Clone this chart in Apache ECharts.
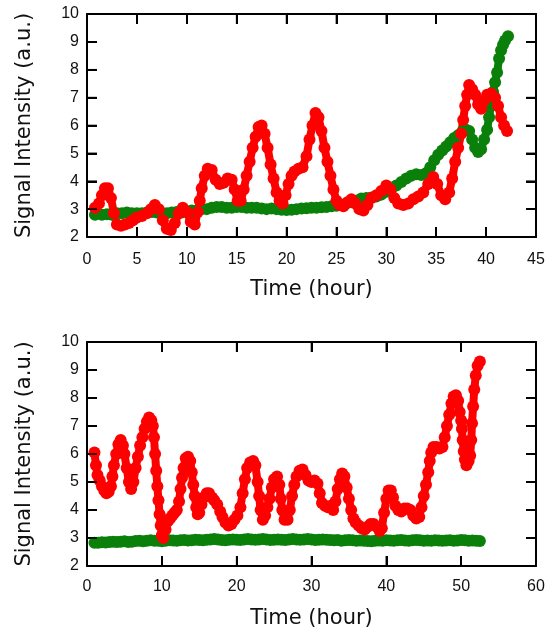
<!DOCTYPE html>
<html>
<head>
<meta charset="utf-8">
<script src="https://cdn.jsdelivr.net/npm/echarts@6/dist/echarts.min.js"></script>
<style>html,body{margin:0;padding:0;background:#fff;}#c{width:550px;height:632px;}</style>
</head>
<body>
<div id="c"></div>
<script>
// ---- Axis ticks ----
var topXTicks = [0, 45, 5];   // min, max, interval
var bottomXTicks = [0, 60, 10];
var yTicks = [2, 10, 1];

// ---- Top panel ----
var topRed = [
[0.8,3.05],[1.2,3.2],[1.5,3.5],[1.8,3.75],[2.1,3.75],[2.4,3.4],[2.7,2.85],[3.0,2.45],[3.4,2.4],[3.8,2.45],
[4.2,2.5],[4.6,2.6],[5.0,2.7],[5.5,2.75],[6.0,2.85],[6.4,3.0],[6.8,3.15],[7.2,3.0],[7.6,2.6],[8.0,2.3],
[8.4,2.25],[8.8,2.5],[9.2,2.85],[9.6,3.05],[10.0,2.9],[10.4,2.55],[10.8,2.45],[11.1,2.9],[11.3,3.3],[11.5,3.75],
[11.8,4.2],[12.1,4.45],[12.5,4.4],[12.9,4.05],[13.3,3.9],[13.7,3.95],[14.1,4.1],[14.5,4.05],[14.8,3.7],[15.1,3.3],
[15.4,3.3],[15.7,3.7],[16.0,4.2],[16.3,4.7],[16.6,5.2],[16.9,5.6],[17.2,5.95],[17.5,6.0],[17.8,5.7],[18.1,5.2],
[18.4,4.6],[18.7,4.1],[19.0,3.6],[19.3,3.3],[19.6,3.2],[19.9,3.5],[20.2,3.9],[20.5,4.2],[20.8,4.35],[21.2,4.45],
[21.6,4.5],[22.0,4.9],[22.3,5.5],[22.6,6.0],[22.9,6.45],[23.2,6.3],[23.5,5.8],[23.8,5.2],[24.1,4.7],[24.4,4.2],
[24.7,3.7],[25.0,3.3],[25.3,3.15],[25.7,3.1],[26.1,3.25],[26.5,3.35],[26.9,3.2],[27.3,3.0],[27.7,2.95],[28.1,3.15],
[28.5,3.4],[29.0,3.5],[29.5,3.65],[30.0,3.85],[30.4,3.7],[30.8,3.4],[31.2,3.2],[31.7,3.15],[32.2,3.2],[32.7,3.35],
[33.2,3.45],[33.7,3.6],[34.2,3.9],[34.7,4.15],[35.1,3.9],[35.5,3.5],[35.9,3.35],[36.3,3.6],[36.6,4.1],[36.9,4.7],
[37.2,5.2],[37.5,5.7],[37.7,6.2],[37.9,6.7],[38.1,7.1],[38.3,7.45],[38.6,7.3],[38.9,7.1],[39.2,6.75],[39.5,6.6],
[39.8,6.9],[40.1,7.1],[40.5,7.15],[40.9,7.0],[41.2,6.7],[41.5,6.3],[41.8,6.0],[42.1,5.8]
];

var topGreen = [
[0.8,2.8],[1.5,2.8],[2.0,2.82],[2.5,2.8],[3.0,2.85],[3.5,2.85],[4.0,2.88],[4.5,2.85],[5.0,2.85],[5.5,2.85],
[6.0,2.88],[6.5,2.9],[7.0,2.88],[7.5,2.85],[8.0,2.85],[8.5,2.88],[9.0,2.9],[9.5,2.88],[10.0,2.92],[10.5,2.95],
[11.0,2.95],[11.5,3.0],[12.0,3.0],[12.5,3.05],[13.0,3.08],[13.5,3.08],[14.0,3.05],[14.5,3.05],[15.0,3.08],[15.5,3.08],
[16.0,3.05],[16.5,3.05],[17.0,3.05],[17.5,3.02],[18.0,3.0],[18.5,3.02],[19.0,3.0],[19.5,2.98],[20.0,2.97],[20.5,2.98],
[21.0,3.0],[21.5,3.02],[22.0,3.03],[22.5,3.05],[23.0,3.05],[23.5,3.07],[24.0,3.08],[24.5,3.1],[25.0,3.12],[25.5,3.15],
[26.0,3.2],[26.5,3.25],[27.0,3.3],[27.5,3.38],[28.0,3.4],[28.5,3.42],[29.0,3.45],[29.5,3.52],[30.0,3.62],[30.5,3.72],
[31.0,3.85],[31.5,3.97],[32.0,4.1],[32.5,4.2],[33.0,4.25],[33.5,4.22],[34.0,4.3],[34.4,4.5],[34.8,4.75],[35.2,4.95],
[35.6,5.1],[36.0,5.25],[36.4,5.4],[36.8,5.55],[37.2,5.65],[37.6,5.78],[38.0,5.85],[38.3,5.8],[38.6,5.5],[38.9,5.2],
[39.2,5.05],[39.5,5.15],[39.8,5.5],[40.1,5.85],[40.3,6.3],[40.5,6.75],[40.7,7.2],[40.9,7.55],[41.1,7.9],[41.3,8.4],
[41.5,8.7],[41.7,8.9],[41.9,9.05],[42.2,9.2]
];

// ---- Bottom panel ----
var bottomRed = [
[1.0,6.05],[1.2,5.6],[1.4,5.25],[1.7,5.05],[2.0,4.85],[2.3,4.7],[2.6,4.6],[2.9,4.65],[3.2,4.85],[3.4,5.2],
[3.6,5.6],[3.9,6.0],[4.2,6.35],[4.5,6.5],[4.8,6.3],[5.0,6.0],[5.3,5.5],[5.6,5.0],[5.9,4.75],[6.2,5.0],
[6.5,5.5],[6.8,5.9],[7.1,6.3],[7.4,6.6],[7.7,6.9],[8.0,7.15],[8.3,7.3],[8.6,7.2],[8.8,7.0],[8.95,6.6],
[9.1,6.0],[9.25,5.4],[9.4,4.85],[9.55,4.35],[9.7,3.85],[9.85,3.45],[10.0,3.1],[10.2,3.0],[10.5,3.3],[10.8,3.6],
[11.1,3.7],[11.4,3.8],[11.7,3.9],[12.0,4.0],[12.3,4.3],[12.5,4.75],[12.7,5.15],[12.9,5.5],[13.2,5.85],[13.5,5.9],
[13.8,5.75],[14.0,5.35],[14.2,4.9],[14.4,4.5],[14.6,4.1],[14.8,3.85],[15.0,3.9],[15.3,4.2],[15.6,4.45],[16.0,4.6],
[16.3,4.6],[16.7,4.45],[17.0,4.35],[17.4,4.2],[17.8,3.95],[18.1,3.75],[18.5,3.55],[18.9,3.45],[19.3,3.5],[19.7,3.65],
[20.1,3.8],[20.5,4.1],[20.8,4.6],[21.1,5.1],[21.4,5.5],[21.8,5.7],[22.2,5.75],[22.5,5.6],[22.8,5.0],[23.0,4.5],
[23.2,4.0],[23.5,3.65],[23.8,3.8],[24.1,4.1],[24.4,4.4],[24.7,4.8],[25.0,5.1],[25.4,5.2],[25.7,4.9],[25.9,4.4],
[26.1,4.0],[26.4,3.65],[26.8,3.65],[27.1,4.0],[27.4,4.5],[27.7,4.9],[28.0,5.2],[28.4,5.4],[28.8,5.45],[29.2,5.25],
[29.6,5.05],[30.0,5.0],[30.4,5.05],[30.8,4.95],[31.1,4.6],[31.4,4.25],[31.8,4.15],[32.2,4.1],[32.6,4.15],[32.9,4.0],
[33.2,4.3],[33.5,4.75],[33.8,5.1],[34.1,5.3],[34.4,5.2],[34.7,4.8],[35.0,4.4],[35.3,4.0],[35.6,3.7],[35.9,3.55],
[36.3,3.45],[36.7,3.35],[37.1,3.3],[37.5,3.4],[37.9,3.5],[38.3,3.5],[38.7,3.4],[39.1,3.25],[39.4,3.35],[39.7,3.9],
[40.0,4.4],[40.3,4.7],[40.6,4.7],[40.9,4.45],[41.2,4.15],[41.6,4.0],[42.0,3.95],[42.4,4.05],[42.8,4.05],[43.2,4.0],
[43.6,3.8],[44.0,3.7],[44.4,3.75],[44.7,4.1],[45.0,4.5],[45.3,4.9],[45.6,5.35],[45.8,5.75],[46.0,6.05],[46.3,6.25],
[46.7,6.25],[47.1,6.2],[47.5,6.25],[47.8,6.6],[48.1,7.0],[48.4,7.4],[48.7,7.8],[49.0,8.05],[49.3,8.1],[49.6,7.9],
[49.8,7.5],[50.0,7.2],[50.1,6.9],[50.2,6.5],[50.35,6.1],[50.5,5.8],[50.7,5.6],[51.0,5.75],[51.2,5.95],[51.35,6.5],
[51.45,7.1],[51.6,7.7],[51.75,8.3],[51.95,8.8],[52.2,9.15],[52.5,9.3]
];

var bottomGreen = [
[1.0,2.83],[1.5,2.83],[2.0,2.85],[2.5,2.84],[3.0,2.86],[3.5,2.87],[4.0,2.86],[4.5,2.87],[5.0,2.88],[5.5,2.86],
[6.0,2.87],[6.5,2.89],[7.0,2.9],[7.5,2.88],[8.0,2.9],[8.5,2.92],[9.0,2.9],[9.5,2.9],[10.0,2.88],[10.5,2.9],
[11.0,2.92],[11.5,2.91],[12.0,2.9],[12.5,2.92],[13.0,2.93],[13.5,2.91],[14.0,2.92],[14.5,2.94],[15.0,2.93],[15.5,2.92],
[16.0,2.94],[16.5,2.95],[17.0,2.96],[17.5,2.95],[18.0,2.93],[18.5,2.92],[19.0,2.94],[19.5,2.95],[20.0,2.94],[20.5,2.93],
[21.0,2.95],[21.5,2.96],[22.0,2.95],[22.5,2.94],[23.0,2.95],[23.5,2.96],[24.0,2.95],[24.5,2.93],[25.0,2.94],[25.5,2.95],
[26.0,2.94],[26.5,2.93],[27.0,2.95],[27.5,2.96],[28.0,2.95],[28.5,2.94],[29.0,2.95],[29.5,2.96],[30.0,2.95],[30.5,2.93],
[31.0,2.94],[31.5,2.95],[32.0,2.94],[32.5,2.93],[33.0,2.92],[33.5,2.93],[34.0,2.9],[34.5,2.92],[35.0,2.93],[35.5,2.92],
[36.0,2.9],[36.5,2.91],[37.0,2.9],[37.5,2.89],[38.0,2.88],[38.5,2.9],[39.0,2.91],[39.5,2.9],[40.0,2.92],[40.5,2.91],
[41.0,2.9],[41.5,2.92],[42.0,2.93],[42.5,2.91],[43.0,2.9],[43.5,2.92],[44.0,2.93],[44.5,2.92],[45.0,2.9],[45.5,2.91],
[46.0,2.9],[46.5,2.92],[47.0,2.91],[47.5,2.9],[48.0,2.91],[48.5,2.92],[49.0,2.9],[49.5,2.91],[50.0,2.93],[50.5,2.92],
[51.0,2.9],[51.5,2.91],[52.0,2.9],[52.5,2.89]
];

var xName = 'Time (hour)';
var yName = 'Signal Intensity (a.u.)';
var RED = '#ff0000', GREEN = '#0a800a';

var GRIDS = [
  {left: 87, top: 14, width: 449, height: 223},
  {left: 87, top: 342, width: 449, height: 224}
];
var TICK_PX = 10;

var chart = echarts.init(document.getElementById('c'));
function tickFont(margin) {
  return {show: true, margin: margin, fontFamily: 'Liberation Sans, Arial, sans-serif', fontSize: 16, color: '#111'};
}
function nameFont() { return {fontFamily: 'DejaVu Sans, sans-serif', fontSize: 21, color: '#111'}; }
function axLine() { return {show: true, onZero: false, lineStyle: {color: '#000', width: 2}}; }
function tick() { return {show: true, inside: true, length: 10, lineStyle: {color: '#000', width: 2}}; }

function xAx(grid, t, mainAxis, margin) {
  var o = {
    type: 'value', gridIndex: grid, min: t[0], max: t[1], interval: t[2],
    position: mainAxis ? 'bottom' : 'top',
    axisLine: axLine(), axisTick: tick(),
    axisLabel: mainAxis ? tickFont(margin) : {show: false},
    splitLine: {show: false}
  };
  if (mainAxis) { o.name = xName; o.nameLocation = 'middle'; o.nameGap = 42; o.nameTextStyle = nameFont(); }
  return o;
}
function yAx(grid, t, mainAxis) {
  var o = {
    type: 'value', gridIndex: grid, min: t[0], max: t[1], interval: t[2],
    position: mainAxis ? 'left' : 'right',
    axisLine: axLine(), axisTick: tick(),
    axisLabel: mainAxis ? tickFont(8) : {show: false},
    splitLine: {show: false}
  };
  if (mainAxis) { o.name = yName; o.nameLocation = 'middle'; o.nameGap = 52; o.nameTextStyle = nameFont(); }
  return o;
}
function ser(data, color, xi, yi) {
  return {
    type: 'line', data: data, xAxisIndex: xi, yAxisIndex: yi,
    symbol: 'circle', symbolSize: 12, showSymbol: true,
    lineStyle: {color: color, width: 8, cap: 'round', join: 'round'},
    itemStyle: {color: color}, z: 3
  };
}
// invisible series so that the mirrored top/right axes are laid out
function mirror(data, xi, yi) {
  return {type: 'line', data: data.slice(0, 1), xAxisIndex: xi, yAxisIndex: yi, showSymbol: false, symbol: 'none', lineStyle: {opacity: 0}};
}
// inward tick marks on all four sides, each a short line series drawn through the axis scales
function tickSeries(xt, yt, g, xi, yi) {
  var dy = TICK_PX * (yt[1] - yt[0]) / g.height;
  var dx = TICK_PX * (xt[1] - xt[0]) / g.width;
  var out = [];
  function seg(a, b) {
    out.push({type: 'line', data: [a, b], xAxisIndex: xi, yAxisIndex: yi, symbol: 'none', showSymbol: false,
      silent: true, z: 10, clip: false, lineStyle: {color: '#000', width: 1.6}, emphasis: {disabled: true}});
  }
  for (var v = xt[0] + xt[2]; v < xt[1] - 1e-9; v += xt[2]) {
    seg([v, yt[0]], [v, yt[0] + dy]);
    seg([v, yt[1]], [v, yt[1] - dy]);
  }
  for (var w = yt[0] + yt[2]; w < yt[1] - 1e-9; w += yt[2]) {
    seg([xt[0], w], [xt[0] + dx, w]);
    seg([xt[1], w], [xt[1] - dx, w]);
  }
  return out;
}

var series = [
  mirror(topGreen, 1, 1),
  mirror(bottomGreen, 3, 3),
  ser(topGreen, GREEN, 0, 0),
  ser(topRed, RED, 0, 0),
  ser(bottomGreen, GREEN, 2, 2),
  ser(bottomRed, RED, 2, 2)
].concat(tickSeries(topXTicks, yTicks, GRIDS[0], 0, 0))
 .concat(tickSeries(bottomXTicks, yTicks, GRIDS[1], 2, 2));

chart.setOption({
  animation: false,
  backgroundColor: '#fff',
  grid: GRIDS,
  xAxis: [xAx(0, topXTicks, true, 15), xAx(0, topXTicks, false), xAx(1, bottomXTicks, true, 13), xAx(1, bottomXTicks, false)],
  yAxis: [yAx(0, yTicks, true), yAx(0, yTicks, false), yAx(1, yTicks, true), yAx(1, yTicks, false)],
  series: series
});
</script>
</body>
</html>
